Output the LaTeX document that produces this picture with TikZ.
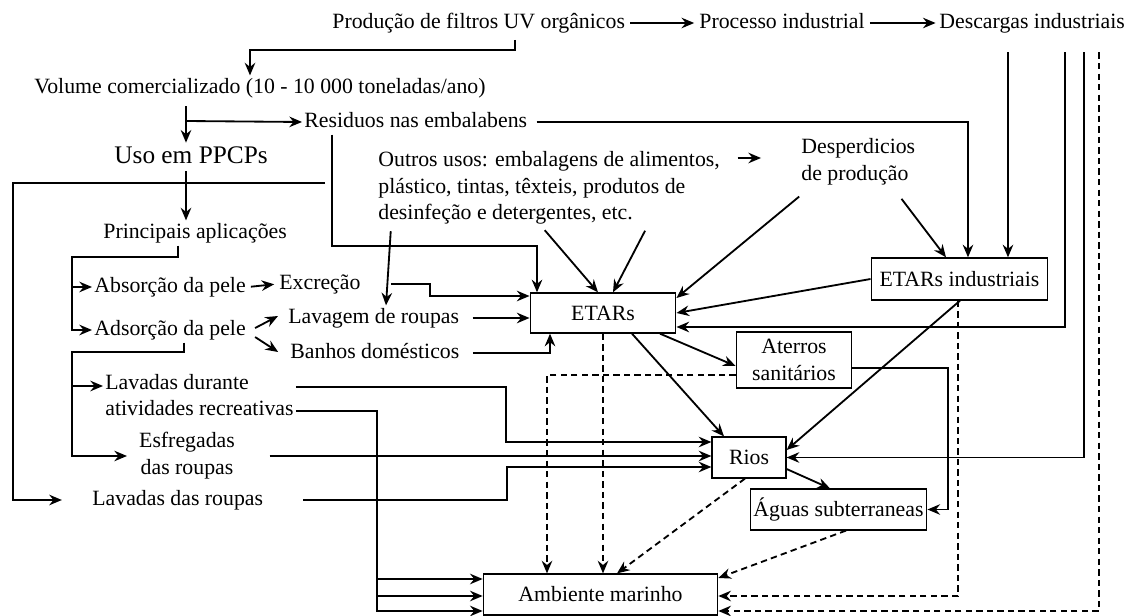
\documentclass[tikz,border=0pt]{standalone}
\usepackage{fontspec}
\setmainfont{Liberation Serif}
\usepackage{tikz}
\usetikzlibrary{arrows.meta, positioning, calc}

\begin{document}
\begin{tikzpicture}[x=0.025cm, y=-0.025cm,
    every node/.style={font=\fontsize{15.5}{19}\selectfont, inner sep=1.5pt},
    txt/.style={anchor=west, text height=11pt, text depth=3.5pt},
    mtxt/.style={anchor=west, align=left},
    box/.style={draw, line width=1pt, align=center, inner sep=2pt},
    arr/.style={line width=1.3pt, -{Stealth[length=9pt, width=7.5pt, inset=3pt]}},
    dsh/.style={arr, dash pattern=on 4.5pt off 3pt}]
    \useasboundingbox (0,0) rectangle (1133,616);

    % Top row
    \node[txt] (prod) at (330,23) {Produção de filtros UV orgânicos};
    \node[txt] (proc) at (697,23) {Processo industrial};
    \node[txt] (desc) at (937,23) {Descargas industriais};

    % Left column
    \node[txt] (vol) at (32,88) {Volume comercializado (10 - 10 000 toneladas/ano)};
    \node[txt] (res) at (302,122) {Residuos nas embalabens};
    \node[txt, font=\fontsize{18}{22}\selectfont, text height=13pt, text depth=4pt] (uso) at (112,157) {Uso em PPCPs};
    \node[txt] (princ) at (101,233) {Principais aplicações};
    \node[txt] (absor) at (92,287) {Absorção da pele};
    \node[txt] (excr) at (277,284) {Excreção};
    \node[txt] (adsor) at (92,330) {Adsorção da pele};
    \node[txt] (lavag) at (286,318) {Lavagem de roupas};
    \node[txt] (banhos) at (288,353) {Banhos domésticos};
    \node[mtxt] (lavrec) at (103,395) {Lavadas durante\\atividades recreativas};
    \node[align=center] (esfreg) at (187,456) {Esfregadas\\das roupas};
    \node[txt] (lavroup) at (90,500) {Lavadas das roupas};

    % Other uses
    \node[mtxt] (outros) at (376,188) {Outros usos: embalagens de alimentos,\\plástico, tintas, têxteis, produtos de\\desinfeção e detergentes, etc.};
    \node[mtxt] (desp) at (799,162) {Desperdicios\\de produção};

    % Boxes
    \node[box, minimum width=103.5pt, minimum height=28.4pt] (etars) at (603,313) {ETARs};
    \node[box, minimum width=125.5pt, minimum height=29.8pt] (etarind) at (959.5,279) {ETARs industriais};
    \node[box, minimum width=82pt, minimum height=39.7pt] (ater) at (794,360) {Aterros\\sanitários};
    \node[box, minimum width=52.5pt, minimum height=29pt] (rios) at (749,457.5) {Rios};
    \node[box, minimum width=125.5pt, minimum height=29pt] (aguas) at (838.5,509.5) {Águas subterraneas};
    \node[box, minimum width=166.6pt, minimum height=29pt] (amb) at (600.5,594.5) {Ambiente marinho};

    % Production chain
    \draw[arr, shorten <=2pt, shorten >=2pt] (prod) -- (proc);
    \draw[arr, shorten <=2pt, shorten >=1pt] (proc) -- (desc);
    \draw[arr, shorten <=3pt] (prod.south -| 515,0) |- (250,50) -- (vol.north -| 250,0);
    \draw[arr, shorten <=4pt] (vol.south -| 186,0) -- (uso.north -| 186,0);
    \coordinate (volres) at (186,121);
    \draw[arr] (volres) -- (res.west);
    \draw[arr, shorten <=5pt] (res.east) -| (etarind.north -| 968,0);
    \draw[arr] (res.south -| 332,0) |- (537,246) -- (etars.north -| 537,0);

    % PPCPs
    \draw[arr] (uso.south -| 186,0) -- (princ.north -| 186,0);
    \coordinate (usoleft) at (325,183);
    \draw[arr, shorten >=20pt] (usoleft) -| (lavroup.west -| 13,0) -- (lavroup.west);
    \draw[arr] (princ.south -| 178,0) |- (72,257) |- (adsor.west);
    \draw[arr] (absor.west -| 72,0) -- (absor.west);
    \draw[arr, shorten <=2pt, shorten >=2pt] (absor.east) -- (excr.west);
    \draw[arr] ([shift={(5pt,1.4pt)}]adsor.east) -- ([shift={(-5.7pt,1.4pt)}]lavag.west);
    \draw[arr] ([shift={(5pt,-5pt)}]adsor.east) -- ([shift={(-7pt,0.7pt)}]banhos.west);
    \draw[arr, shorten >=7pt] (adsor.south -| 184,0) |- (72,352) |- (esfreg.west);
    \draw[arr] (72,386) -- (lavrec.west |- 0,386);

    % into ETARs
    \draw[arr, shorten <=20pt] (excr.east) -| (430,296) -- (etars.west |- 0,296);
    \draw[arr, shorten <=8pt] (lavag.east) -- (etars.west |- lavag.east);
    \draw[arr, shorten <=8pt] (banhos.east) -| (etars.south -| 550,0);
    \draw[arr, shorten <=3pt] (outros.south -| 391,0) -- (lavag.north -| 386,0);
    \draw[arr, shorten <=3pt] (outros.south -| 542,0) -- (etars.north -| 598,0);
    \draw[arr, shorten <=3pt] (outros.south -| 647,0) -- (etars.north -| 613,0);
    \draw[arr, shorten <=11pt, shorten >=27pt] (outros.east |- 0,158) -- (desp.west |- 0,158);
    \draw[arr, shorten <=10pt] (desp.south -| 810,0) -- (etars.east |- 0,298);
    \draw[arr, shorten <=10pt] (desp.south -| 893,0) -- (etarind.north -| 946,0);

    % Industrial discharges
    \draw[arr, shorten <=12pt] (desc.south -| 1008,0) -- (etarind.north -| 1008,0);
    \draw[arr, shorten <=12pt] (desc.south -| 1065,0) |- (etars.east |- 0,327);
    \draw[arr, shorten <=12pt] (desc.south -| 1084,0) |- (rios.east);
    \draw[dsh, shorten <=12pt] (desc.south -| 1099,0) |- (amb.east |- 0,611);
    \draw[arr] (etarind.west) -- (etars.east);
    \draw[arr] (etarind.south -| 960,0) -- (rios.east |- 0,450);
    \draw[dsh] (etarind.south -| 958,0) |- (amb.east |- 0,596);

    % ETARs and landfills
    \draw[arr] (etars.south -| 660,0) -- (ater.west |- 0,366);
    \draw[arr] (etars.south -| 632,0) -- (rios.north -| 724,0);
    \draw[dsh] (etars.south -| 603,0) -- (amb.north -| 603,0);
    \draw[dsh] (ater.west |- 0,375) -| (amb.north -| 547,0);
    \draw[arr] (ater.east |- 0,368) -| (aguas.east -| 948,0) -- (aguas.east);

    % Washing to rivers and sea
    \draw[arr] (lavrec.east |- 0,387) -| (506,442) -- (rios.west |- 0,442);
    \draw[arr, shorten <=23pt] (esfreg.east |- 0,456) -- (rios.west |- 0,456);
    \draw[arr, shorten <=27pt] (lavroup.east) -| (507,467) -- (rios.west |- 0,467);
    \draw[arr] (lavrec.east |- 0,411) -| (377,611) -- (amb.west |- 0,611);
    \draw[arr] (377,579) -- (amb.west |- 0,579);
    \draw[arr] (377,596) -- (amb.west |- 0,596);

    % Rivers and groundwater
    \draw[arr] (rios.east |- 0,469) -- (aguas.north -| 830,0);
    \draw[dsh] (rios.south -| 745,0) -- (amb.north -| 617,0);
    \draw[dsh] (aguas.south -| 846,0) -- (amb.east |- 0,578);
\end{tikzpicture}
\end{document}
